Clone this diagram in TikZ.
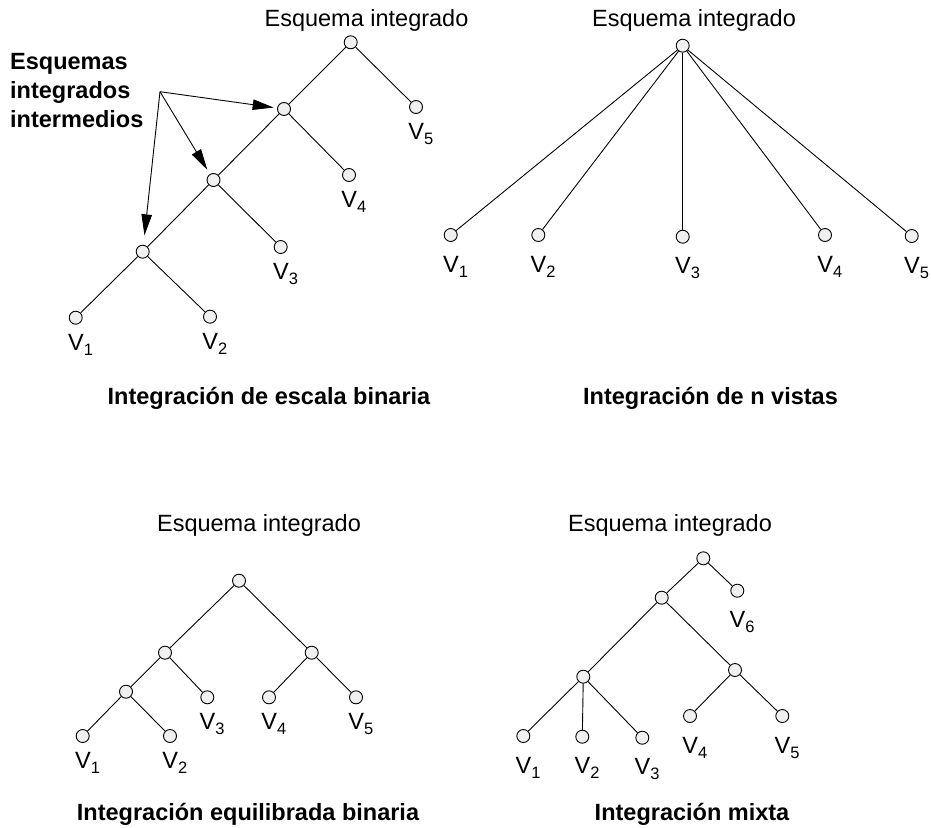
\documentclass[tikz,border=0pt]{standalone}
\usepackage{fontspec}
\setmainfont{Liberation Sans}
\usetikzlibrary{arrows.meta,calc}
\newcommand{\vsub}[1]{V\raisebox{-5pt}{\fontsize{16.5}{16.5}\selectfont #1}}

\begin{document}
\begin{tikzpicture}[x=1pt,y=-1pt,>={Triangle[length=21pt,width=10.5pt]},
  font=\fontsize{23.5}{28}\selectfont,
  vert/.style={circle,draw,fill=gray!12,minimum size=13pt,inner sep=0pt,line width=0.9pt},
  edge/.style={line width=0.9pt},
  vlab/.style={anchor=base west,inner sep=0pt},
  titletext/.style={anchor=base,inner sep=0pt},
  captext/.style={anchor=base,inner sep=0pt,font=\fontsize{23.5}{28}\selectfont\bfseries}]
\useasboundingbox (0,0) rectangle (931,827);
% binary ladder
\node[titletext] (t1) at (366.5,26) {Esquema integrado};
\node[vert] (r1) at (350.7,42.3) {};
\node[vert] (a1) at (284,109) {};
\node[vert] (b1) at (213.5,180) {};
\node[vert] (c1) at (142.7,251.7) {};
\node[vert] (p1v1) at (75.7,317.7) {};
\node[vert] (p1v2) at (210,316.7) {};
\node[vert] (p1v3) at (280.7,247) {};
\node[vert] (p1v4) at (349,175) {};
\node[vert] (p1v5) at (416,107) {};
\foreach \a/\b in {r1/a1,r1/p1v5,a1/b1,a1/p1v4,b1/c1,b1/p1v3,c1/p1v1,c1/p1v2}{\draw[edge] (\a)--(\b);}
\foreach \p/\n in {p1v1/1,p1v2/2,p1v3/3,p1v4/4,p1v5/5}{\node[vlab] (\p-lab) at ($(\p)+(-7.8,32.3)$) {\vsub{\n}};}
\node[anchor=north west,align=left,inner sep=0pt,font=\fontsize{23.5}{28.7}\selectfont\bfseries] (inter) at (10,53.5) {Esquemas\\integrados\\intermedios};
\coordinate (src) at (160,91.7);
\draw[->,edge,shorten >=3.5pt] (src) -- (a1);
\draw[->,edge,shorten >=5pt] (src) -- (b1);
\draw[->,edge,shorten >=9.5pt] (src) -- (c1);
\node[captext] (cap1) at (269,404) {Integración de escala binaria};
% n views at once
\node[titletext] (t2) at (694,26) {Esquema integrado};
\node[vert] (r2) at (682.7,45.7) {};
\foreach \p/\x/\y in {p2v1/450.7/235,p2v2/538.3/235,p2v3/682.7/236.7,p2v4/825/235,p2v5/911.7/236}{\node[vert] (\p) at (\x,\y) {}; \draw[edge] (r2)--(\p);}
\foreach \p/\n in {p2v1/1,p2v2/2,p2v3/3,p2v4/4,p2v5/5}{\node[vlab] (\p-lab) at ($(\p)+(-7.8,37)$) {\vsub{\n}};}
\node[captext] (cap2) at (710.5,404) {Integración de n vistas};
% balanced binary
\node[titletext] (t3) at (259,531) {Esquema integrado};
\node[vert] (r3) at (239,580.7) {};
\node[vert] (a3) at (165,652.7) {};
\node[vert] (b3) at (311.7,652.7) {};
\node[vert] (c3) at (126,691.7) {};
\node[vert] (p3v1) at (82.7,736) {};
\node[vert] (p3v2) at (170,736) {};
\node[vert] (p3v3) at (207.3,697.3) {};
\node[vert] (p3v4) at (269,697.3) {};
\node[vert] (p3v5) at (356,697.3) {};
\foreach \a/\b in {r3/a3,r3/b3,a3/c3,a3/p3v3,b3/p3v4,b3/p3v5,c3/p3v1,c3/p3v2}{\draw[edge] (\a)--(\b);}
\foreach \p/\n in {p3v1/1,p3v2/2,p3v3/3,p3v4/4,p3v5/5}{\node[vlab] (\p-lab) at ($(\p)+(-7.8,32.3)$) {\vsub{\n}};}
\node[captext] (cap3) at (248,820) {Integración equilibrada binaria};
% mixed
\node[titletext] (t4) at (670,531) {Esquema integrado};
\node[vert] (r4) at (703.3,558.3) {};
\node[vert] (a4) at (661.7,597.7) {};
\node[vert] (b4) at (735,670) {};
\node[vert] (c4) at (583.3,676.7) {};
\node[vert] (p4v1) at (523.3,736) {};
\node[vert] (p4v2) at (582.3,736.7) {};
\node[vert] (p4v3) at (642.3,737.7) {};
\node[vert] (p4v4) at (690,716) {};
\node[vert] (p4v5) at (782.3,716) {};
\node[vert] (p4v6) at (737.3,590.7) {};
\foreach \a/\b in {r4/a4,r4/p4v6,a4/c4,a4/b4,c4/p4v1,c4/p4v2,c4/p4v3,b4/p4v4,b4/p4v5}{\draw[edge] (\a)--(\b);}
\foreach \p/\n in {p4v1/1,p4v2/2,p4v3/3,p4v4/4,p4v5/5,p4v6/6}{\node[vlab] (\p-lab) at ($(\p)+(-7.8,37)$) {\vsub{\n}};}
\node[captext] (cap4) at (692,820) {Integración mixta};
\end{tikzpicture}
\end{document}
